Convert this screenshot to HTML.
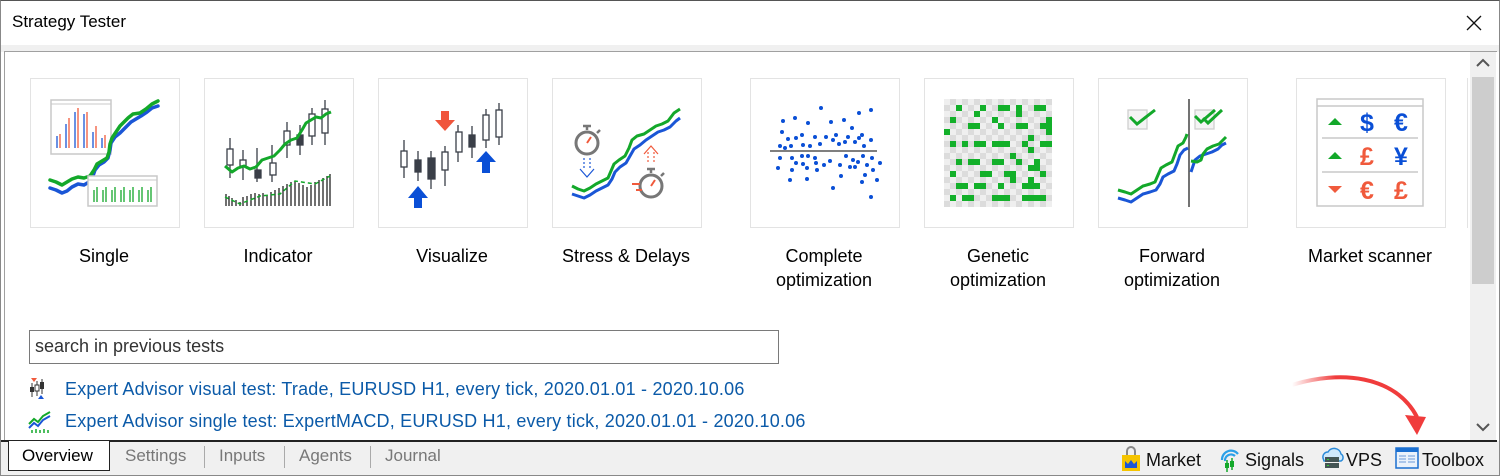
<!DOCTYPE html>
<html><head><meta charset="utf-8"><style>
*{margin:0;padding:0;box-sizing:border-box}
body{width:1500px;height:476px;background:#fff;font-family:"Liberation Sans",Arial,sans-serif;position:relative;overflow:hidden}
.a{position:absolute}
.tile{position:absolute;top:78px;width:150px;height:150px;border:1px solid #e3e3e3;background:#fff}
.lbl{position:absolute;top:244px;width:200px;text-align:center;font-size:18px;line-height:24px;color:#000}
.tab{position:absolute;top:446px;font-size:17px;color:#777}
.sep{position:absolute;top:446px;width:1px;height:22px;background:#aaa}
.bt{position:absolute;top:450px;font-size:18px;color:#111}
.link{position:absolute;left:65px;font-size:18px;color:#0b5aa8;letter-spacing:0.2px}
</style></head><body>
<div class="a" style="left:0;top:0;width:1500px;height:476px;border:1px solid #888;border-top:1px solid #555"></div>
<div class="a" style="left:12px;top:12px;font-size:17px;color:#000">Strategy Tester</div>
<svg class="a" style="left:1465px;top:14px" width="18" height="18"><path d="M2,2L16,16M16,2L2,16" stroke="#111" stroke-width="1.3"/></svg>
<div class="a" style="left:1px;top:45px;width:1498px;height:7px;background:#f0f0f0"></div>
<div class="a" style="left:4px;top:51px;width:1493px;height:1px;background:#a0a0a0"></div>
<div class="a" style="left:4px;top:51px;width:1px;height:390px;background:#a0a0a0"></div>
<div class="a" style="left:1470px;top:52px;width:26px;height:388px;background:#f0f0f0"></div>
<div class="a" style="left:1472px;top:77px;width:22px;height:207px;background:#cdcdcd"></div>
<svg class="a" style="left:1476px;top:58px" width="14" height="10"><path d="M1,8L7,2L13,8" stroke="#555" stroke-width="2" fill="none"/></svg>
<svg class="a" style="left:1476px;top:422px" width="14" height="10"><path d="M1,2L7,8L13,2" stroke="#555" stroke-width="2" fill="none"/></svg>
<div class="a" style="left:1467px;top:78px;width:1px;height:150px;background:#e3e3e3"></div>

<div class="tile" style="left:30px"></div>
<div class="tile" style="left:204px"></div>
<div class="tile" style="left:378px"></div>
<div class="tile" style="left:552px"></div>
<div class="tile" style="left:750px"></div>
<div class="tile" style="left:924px"></div>
<div class="tile" style="left:1098px"></div>
<div class="tile" style="left:1296px"></div>

<svg class="a" style="left:0;top:0" width="1500" height="240">
<rect x="51" y="100" width="60" height="54" fill="#fff" stroke="#c8c8c8" stroke-width="1.5"/><line x1="51" y1="104" x2="111" y2="104" stroke="#c8c8c8"/>
<g stroke-width="1.3">
<line x1="57" y1="148" x2="57" y2="136" stroke="#1a56d6"/><line x1="60" y1="148" x2="60" y2="134" stroke="#f05a3c"/>
<line x1="66" y1="148" x2="66" y2="124" stroke="#1a56d6"/><line x1="69" y1="148" x2="69" y2="118" stroke="#f05a3c"/>
<line x1="75" y1="148" x2="75" y2="112" stroke="#1a56d6"/><line x1="78" y1="148" x2="78" y2="108" stroke="#f05a3c"/>
<line x1="84" y1="148" x2="84" y2="114" stroke="#1a56d6"/><line x1="87" y1="148" x2="87" y2="112" stroke="#f05a3c"/>
<line x1="93" y1="148" x2="93" y2="132" stroke="#1a56d6"/><line x1="96" y1="148" x2="96" y2="126" stroke="#f05a3c"/>
<line x1="102" y1="148" x2="102" y2="138" stroke="#1a56d6"/><line x1="105" y1="148" x2="105" y2="135" stroke="#f05a3c"/></g>
<g fill="none" stroke-width="3.5" stroke-linejoin="round" stroke-linecap="round">
<path d="M50,188 L56,190 L62,193 L67,191 L72,187 L78,184 L84,185 L89,182 L93,176 L95,170 L99,165 L104,162 L108,158 L110,150 L111,143 L115,137 L120,133 L126,127 L131,122 L136,119 L141,116 L147,112 L152,108 L158,106" stroke="#1a56d6"/>
<path d="M50,180 L56,182 L62,185 L67,182 L72,179 L78,177 L84,178 L90,176 L94,170 L97,164 L102,161 L107,158 L109,152 L110,144 L112,138 L116,132 L120,126 L124,122 L128,118 L133,114 L140,113 L146,109 L152,104 L158,101" stroke="#13a82a"/></g>
<rect x="88" y="176" width="69" height="30" fill="#fff" stroke="#c8c8c8" stroke-width="1.5"/><line x1="88" y1="180" x2="157" y2="180" stroke="#c8c8c8"/>
<g stroke="#13a82a" stroke-width="1.3"><path d="M94,202V190M97,202V187M103,202V190M106,202V187M112,202V190M115,202V187M121,202V190M124,202V187M130,202V190M133,202V187M139,202V190M142,202V187M148,202V190M151,202V187"/></g>
<g stroke="#3a3f48" stroke-width="1.3" fill="#fff">
<path d="M230,138V178M243,150V180M257,148V182M272,145V182M287,122V158M300,125V155M312,108V145M325,100V145"/>
<rect x="227" y="149" width="6" height="16"/><rect x="240" y="160" width="6" height="6"/><rect x="255" y="170" width="6" height="8" fill="#3a3f48"/><rect x="270" y="163" width="6" height="12"/><rect x="284" y="131" width="6" height="14"/><rect x="297" y="135" width="6" height="10" fill="#3a3f48"/><rect x="309" y="114" width="6" height="22"/><rect x="322" y="109" width="6" height="24"/></g>
<path d="M225,166 L232,172 L238,168 L244,166 L250,169 L256,167 L262,160 L268,158 L274,156 L280,150 L285,144 L291,140 L297,138 L302,130 L306,123 L311,120 L316,117 L321,118 L326,114 L331,112" stroke="#13a82a" stroke-width="3" fill="none" stroke-linejoin="round"/>
<g stroke="#111" stroke-width="1.2"><path d="M226,206V194M229,206V196M232,206V198M236,206V200M240,206V202M243,206V197M247,206V196M251,206V194M255,206V193M259,206V194M263,206V193M267,206V195M271,206V192M275,206V190M279,206V188M283,206V186M287,206V184M291,206V182M295,206V181M299,206V183M303,206V185M307,206V187M311,206V185M315,206V182M319,206V180M323,206V178M327,206V176M330,206V174"/></g>
<path d="M225,197 L240,204 L260,196 L280,194 L295,181 L315,184 L330,176" stroke="#13a82a" stroke-width="1.5" stroke-dasharray="4,3" fill="none"/>
<g stroke="#3a3f48" stroke-width="1.3" fill="#fff">
<path d="M404,140V178M418,151V181M431,151V189M445,146V186M458,125V162M472,126V158M486,109V148M499,103V145"/>
<rect x="401" y="151" width="6" height="16"/><rect x="415" y="160" width="6" height="12" fill="#3a3f48"/><rect x="428" y="158" width="7" height="21" fill="#3a3f48"/><rect x="442" y="152" width="6" height="18"/><rect x="456" y="132" width="6" height="20"/><rect x="469" y="135" width="6" height="12" fill="#3a3f48"/><rect x="483" y="115" width="6" height="25"/><rect x="496" y="110" width="6" height="27"/></g>
<path d="M414,198h8v10h-8z M408,198 L418,186 L428,198Z" fill="#0a4fd6"/>
<path d="M482,162h8v11h-8z M476,162 L486,151 L496,162Z" fill="#0a4fd6"/>
<path d="M441,111h8v9h-8z M435,120 L445,131 L455,120Z" fill="#f0553c"/>
<circle cx="587" cy="143" r="11" fill="none" stroke="#777" stroke-width="3"/><path d="M587,130V126M583,126h8M597,133l3,-3" stroke="#777" stroke-width="2.5"/><path d="M587,143l4,-6" stroke="#f05a3c" stroke-width="2"/>
<path d="M584,158V170M590,158V170" stroke="#1a56d6" stroke-width="1.2" stroke-dasharray="2,2"/><path d="M580,169L587,177L594,169" stroke="#1a56d6" stroke-width="1.2" fill="none"/>
<path d="M648,152V164M654,152V164" stroke="#f05a3c" stroke-width="1.2" stroke-dasharray="2,2"/><path d="M644,154L651,146L658,154" stroke="#f05a3c" stroke-width="1.2" fill="none"/>
<circle cx="651" cy="186" r="11" fill="none" stroke="#777" stroke-width="3"/><path d="M651,173V169M647,169h8M661,176l3,-3" stroke="#777" stroke-width="2.5"/><path d="M651,186l4,-6" stroke="#f05a3c" stroke-width="2"/><path d="M632,184h8M636,190h6" stroke="#f05a3c" stroke-width="2"/>
<g fill="none" stroke-width="3" stroke-linejoin="round">
<path d="M572,194 L578,196 L584,198 L590,195 L596,191 L602,188 L608,185 L612,179 L615,172 L620,167 L626,163 L630,156 L634,149 L640,145 L646,140 L652,136 L658,132 L664,130 L670,127 L676,121 L680,118" stroke="#1a56d6"/>
<path d="M572,186 L578,189 L584,191 L590,188 L596,184 L602,181 L608,178 L611,171 L614,164 L619,160 L625,156 L629,148 L632,140 L637,136 L644,134 L650,130 L656,126 L662,124 L668,121 L674,113 L680,109" stroke="#13a82a"/></g>
<line x1="770" y1="151" x2="877" y2="151" stroke="#555" stroke-width="1.5"/>
<g fill="#0a4fd6">
<circle cx="795" cy="118" r="2"/><circle cx="808" cy="123" r="2"/><circle cx="821" cy="108" r="2"/><circle cx="831" cy="122" r="2"/><circle cx="844" cy="120" r="2"/><circle cx="859" cy="113" r="2"/><circle cx="871" cy="110" r="2"/>
<circle cx="782" cy="132" r="2"/><circle cx="796" cy="138" r="2"/><circle cx="791" cy="146" r="2"/><circle cx="802" cy="135" r="2"/><circle cx="810" cy="146" r="2"/><circle cx="815" cy="137" r="2"/><circle cx="820" cy="144" r="2"/><circle cx="826" cy="137" r="2"/><circle cx="833" cy="140" r="2"/><circle cx="836" cy="135" r="2"/><circle cx="839" cy="144" r="2"/><circle cx="845" cy="142" r="2"/><circle cx="848" cy="137" r="2"/><circle cx="852" cy="128" r="2"/><circle cx="855" cy="142" r="2"/><circle cx="859" cy="138" r="2"/><circle cx="862" cy="135" r="2"/><circle cx="864" cy="146" r="2"/><circle cx="871" cy="140" r="2"/><circle cx="803" cy="145" r="2"/><circle cx="780" cy="146" r="2"/><circle cx="788" cy="139" r="2"/><circle cx="785" cy="148" r="2"/>
<circle cx="780" cy="158" r="2"/><circle cx="792" cy="158" r="2"/><circle cx="802" cy="156" r="2"/><circle cx="808" cy="156" r="2"/><circle cx="815" cy="158" r="2"/><circle cx="830" cy="161" r="2"/><circle cx="846" cy="156" r="2"/><circle cx="853" cy="160" r="2"/><circle cx="863" cy="156" r="2"/><circle cx="872" cy="158" r="2"/><circle cx="796" cy="163" r="2"/><circle cx="803" cy="164" r="2"/><circle cx="816" cy="163" r="2"/><circle cx="824" cy="165" r="2"/><circle cx="840" cy="165" r="2"/><circle cx="858" cy="162" r="2"/><circle cx="867" cy="165" r="2"/><circle cx="880" cy="163" r="2"/>
<circle cx="778" cy="168" r="2"/><circle cx="792" cy="170" r="2"/><circle cx="807" cy="168" r="2"/><circle cx="817" cy="170" r="2"/><circle cx="850" cy="167" r="2"/><circle cx="855" cy="167" r="2"/><circle cx="873" cy="170" r="2"/><circle cx="841" cy="176" r="2"/><circle cx="865" cy="175" r="2"/><circle cx="790" cy="180" r="2"/><circle cx="807" cy="179" r="2"/><circle cx="862" cy="182" r="2"/><circle cx="877" cy="180" r="2"/><circle cx="833" cy="188" r="2"/><circle cx="871" cy="197" r="2"/><circle cx="783" cy="121" r="2"/></g>
<rect x="1128" y="110" width="19" height="19" fill="#f4f4f4" stroke="#cfcfcf" stroke-width="1.3"/><path d="M1130,117L1137,124L1155,110" stroke="#13a82a" stroke-width="3" fill="none"/>
<rect x="1195" y="110" width="19" height="19" fill="#f4f4f4" stroke="#cfcfcf" stroke-width="1.3"/><path d="M1195,116L1201,122L1215,110M1203,118L1208,123L1222,110" stroke="#13a82a" stroke-width="3" fill="none"/>
<line x1="1189" y1="99" x2="1189" y2="207" stroke="#444" stroke-width="1.5"/>
<g fill="none" stroke-width="3" stroke-linejoin="round">
<path d="M1118,198 L1125,200 L1131,202 L1137,198 L1143,194 L1150,192 L1156,190 L1160,184 L1163,177 L1168,174 L1174,171 L1177,164 L1180,155 L1184,150 L1188,148" stroke="#1a56d6"/>
<path d="M1118,190 L1125,192 L1131,194 L1137,190 L1143,186 L1150,184 L1155,182 L1158,175 L1161,168 L1166,165 L1172,162 L1175,154 L1178,146 L1183,143 L1186,137 L1187,134" stroke="#13a82a"/>
<path d="M1191,172 L1193,166 L1195,160 L1200,156 L1206,154 L1212,152 L1218,149 L1222,145 L1226,143" stroke="#1a56d6"/>
<path d="M1191,161 L1197,162 L1201,160 L1203,154 L1207,149 L1213,146 L1219,144 L1223,140 L1226,137" stroke="#13a82a"/></g>
<rect x="1317" y="99" width="106" height="107" fill="#fff" stroke="#c8c8c8" stroke-width="1.5"/><line x1="1317" y1="106" x2="1423" y2="106" stroke="#c8c8c8" stroke-width="1.5"/>
<line x1="1322" y1="138" x2="1418" y2="138" stroke="#c8c8c8" stroke-width="1.5"/><line x1="1322" y1="172" x2="1418" y2="172" stroke="#c8c8c8" stroke-width="1.5"/>
<path d="M1328,125L1335,118L1342,125Z" fill="#13a82a"/><path d="M1328,159L1335,152L1342,159Z" fill="#13a82a"/><path d="M1328,186L1335,193L1342,186Z" fill="#f05a3c"/>
<g font-family="Liberation Sans,sans-serif" font-size="25" font-weight="bold" text-anchor="middle">
<text x="1367" y="131" fill="#0a4fd6">$</text><text x="1401" y="131" fill="#0a4fd6">€</text>
<text x="1367" y="165" fill="#f05a3c">£</text><text x="1401" y="165" fill="#0a4fd6">¥</text>
<text x="1367" y="199" fill="#f05a3c">€</text><text x="1401" y="199" fill="#f05a3c">£</text></g>
</svg>
<div class="a" style="left:944px;top:99px;width:108px;height:108px;background:repeating-conic-gradient(#dcdcdc 0 25%,#efefef 0 50%) 0 0/12px 12px"></div>
<svg class="a" style="left:944px;top:99px" width="108" height="108"><g fill="#13b02a">
<rect x="12" y="6" width="6" height="6"/><rect x="36" y="6" width="6" height="6"/><rect x="54" y="6" width="12" height="6"/><rect x="72" y="6" width="6" height="12"/><rect x="90" y="6" width="12" height="6"/>
<rect x="30" y="12" width="6" height="6"/><rect x="6" y="18" width="6" height="6"/><rect x="48" y="18" width="6" height="6"/><rect x="102" y="18" width="6" height="12"/>
<rect x="24" y="24" width="12" height="6"/><rect x="54" y="24" width="6" height="6"/><rect x="72" y="24" width="12" height="6"/><rect x="96" y="24" width="6" height="6"/>
<rect x="0" y="30" width="6" height="6"/><rect x="102" y="30" width="6" height="6"/><rect x="84" y="36" width="6" height="6"/>
<rect x="6" y="42" width="6" height="6"/><rect x="18" y="42" width="6" height="6"/><rect x="30" y="42" width="12" height="6"/><rect x="48" y="42" width="18" height="6"/><rect x="78" y="42" width="6" height="6"/><rect x="96" y="42" width="12" height="6"/>
<rect x="84" y="48" width="6" height="6"/><rect x="66" y="54" width="6" height="6"/>
<rect x="12" y="60" width="6" height="6"/><rect x="24" y="60" width="12" height="6"/><rect x="48" y="60" width="12" height="6"/><rect x="72" y="60" width="6" height="6"/><rect x="90" y="60" width="6" height="12"/>
<rect x="84" y="66" width="6" height="6"/><rect x="6" y="72" width="6" height="6"/><rect x="36" y="72" width="12" height="6"/><rect x="60" y="72" width="12" height="6"/><rect x="96" y="72" width="6" height="6"/>
<rect x="66" y="78" width="6" height="6"/><rect x="84" y="78" width="6" height="6"/>
<rect x="12" y="84" width="12" height="6"/><rect x="30" y="84" width="12" height="6"/><rect x="54" y="84" width="6" height="6"/><rect x="78" y="84" width="18" height="6"/>
<rect x="6" y="96" width="6" height="6"/><rect x="18" y="96" width="12" height="6"/><rect x="48" y="96" width="18" height="6"/><rect x="78" y="96" width="24" height="6"/></g></svg>

<div class="lbl" style="left:4px">Single</div>
<div class="lbl" style="left:178px">Indicator</div>
<div class="lbl" style="left:352px">Visualize</div>
<div class="lbl" style="left:526px">Stress &amp; Delays</div>
<div class="lbl" style="left:724px">Complete<br>optimization</div>
<div class="lbl" style="left:898px">Genetic<br>optimization</div>
<div class="lbl" style="left:1072px">Forward<br>optimization</div>
<div class="lbl" style="left:1270px">Market scanner</div>

<div class="a" style="left:29px;top:330px;width:750px;height:34px;border:1px solid #7a7a7a;font-size:18px;color:#333;padding:5px 0 0 5px">search in previous tests</div>
<svg class="a" style="left:28px;top:378px" width="16" height="22"><path d="M3,0h6l-3,4z" fill="#f05a3c"/><path d="M4,5v14M9,3v15M14,1v15" stroke="#333" stroke-width="1"/><rect x="2" y="9" width="4" height="5" fill="#333"/><rect x="7" y="7" width="4" height="6" fill="#fff" stroke="#333"/><rect x="12" y="4" width="4" height="7" fill="#333"/><path d="M10,21h6l-3,-4z" fill="#1a56d6"/></svg>
<div class="link" style="top:379px">Expert Advisor visual test: Trade, EURUSD H1, every tick, 2020.01.01 - 2020.10.06</div>
<svg class="a" style="left:28px;top:410px" width="24" height="24"><path d="M1,14 L6,9 L10,12 L15,6 L22,2" stroke="#13a82a" stroke-width="2" fill="none"/><path d="M1,18 L6,13 L10,16 L15,10 L22,6" stroke="#1a56d6" stroke-width="2" fill="none"/><path d="M4,23v-3M8,23v-4M12,23v-3M16,23v-4M20,23v-3" stroke="#13a82a" stroke-width="1.5"/></svg>
<div class="link" style="top:411px">Expert Advisor single test: ExpertMACD, EURUSD H1, every tick, 2020.01.01 - 2020.10.06</div>

<svg class="a" style="left:1280px;top:365px" width="160" height="75"><defs><linearGradient id="g" x1="0" x2="1"><stop offset="0" stop-color="#f03c3c" stop-opacity="0"/><stop offset="0.35" stop-color="#f03c3c"/></linearGradient></defs><path d="M12,20 C60,5 115,10 137,52" stroke="url(#g)" stroke-width="4" fill="none"/><path d="M125,50 L146,52 L137,70Z" fill="#f03c3c"/></svg>

<div class="a" style="left:1px;top:441px;width:1498px;height:34px;background:#f0f0f0"></div>
<div class="a" style="left:1px;top:440px;width:1496px;height:1.5px;background:#222"></div>
<div class="a" style="left:8px;top:440px;width:102px;height:31px;background:#fff;border:1px solid #222;border-bottom:1.5px solid #222"></div>
<div class="a" style="left:22px;top:446px;font-size:17px;color:#000">Overview</div>
<div class="tab" style="left:125px">Settings</div><div class="sep" style="left:204px"></div>
<div class="tab" style="left:219px">Inputs</div><div class="sep" style="left:284px"></div>
<div class="tab" style="left:299px">Agents</div><div class="sep" style="left:370px"></div>
<div class="tab" style="left:385px">Journal</div>
<svg class="a" style="left:1121px;top:446px" width="20" height="26"><path d="M6,9V5a4,4 0 0 1 8,0V9" stroke="#888" stroke-width="2" fill="none"/><rect x="1" y="9" width="18" height="16" fill="#f5c400"/><path d="M4,22V15l3,3l3,-4l3,4l3,-3v7z" fill="#1a56d6"/></svg>
<div class="bt" style="left:1146px">Market</div>
<svg class="a" style="left:1219px;top:446px" width="22" height="26"><path d="M3,14a9,9 0 0 1 16,-6M6,15a6,6 0 0 1 10,-5" stroke="#2aa0e8" stroke-width="2.2" fill="none"/><path d="M8,14v12M13,12v12" stroke="#13a82a" stroke-width="1.5"/><rect x="6" y="17" width="4" height="5" fill="#13a82a"/><rect x="11" y="15" width="4" height="6" fill="#13a82a"/></svg>
<div class="bt" style="left:1245px">Signals</div>
<svg class="a" style="left:1319px;top:446px" width="26" height="26"><path d="M4,12a5,5 0 0 1 5,-6a7,7 0 0 1 13,2a4,4 0 0 1 0,7H5z" fill="#cfe8fb" stroke="#2a8ad8" stroke-width="1.5"/><rect x="6" y="11" width="14" height="5" fill="#455"/><rect x="6" y="17" width="14" height="5" fill="#455"/><path d="M8,13.5h2M8,19.5h2" stroke="#3c3"/></svg>
<div class="bt" style="left:1346px">VPS</div>
<svg class="a" style="left:1395px;top:447px" width="24" height="22"><rect x="1" y="1" width="22" height="20" fill="#eaf2fb" stroke="#1a6fd0" stroke-width="1.5"/><rect x="1" y="1" width="22" height="4" fill="#1a6fd0"/><path d="M4,9h7M4,12h7M4,15h7M13,9h7M13,12h7M13,15h7" stroke="#6a9ad8"/></svg>
<div class="bt" style="left:1422px">Toolbox</div>
</body></html>
